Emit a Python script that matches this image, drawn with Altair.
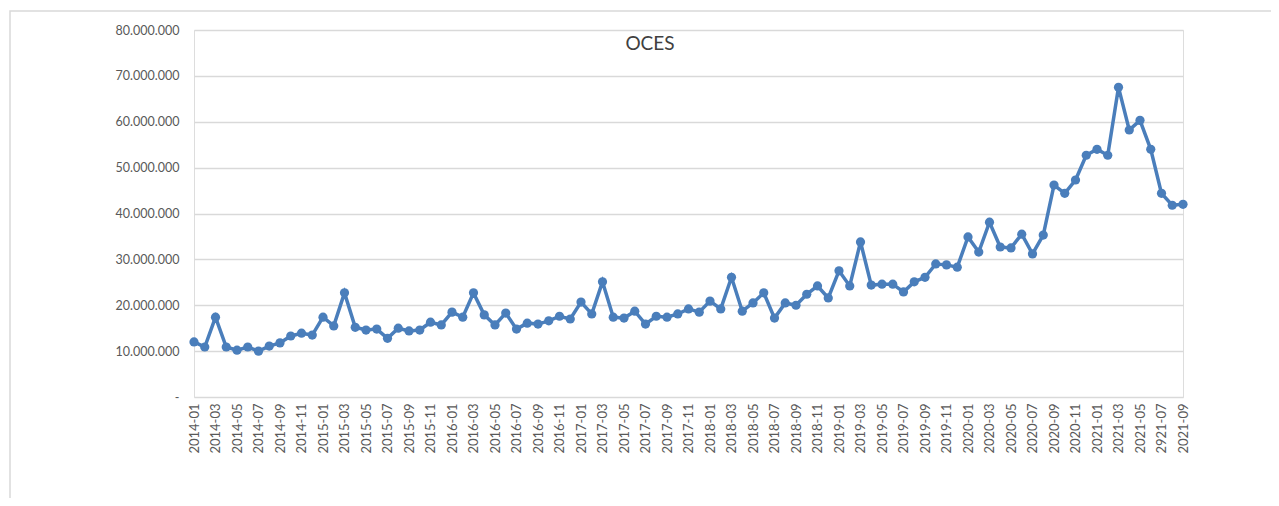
import altair as alt
import pandas as pd

# Category labels as printed on the chart (note the "2921-07" typo in the source)
months = [f"{y}-{m:02d}" for y in range(2014, 2022) for m in range(1, 13)][:93]
months[90] = "2921-07"

values = [
    12.0, 10.9, 17.4, 10.9, 10.2, 10.9, 10.0, 11.1, 11.8, 13.3, 13.9, 13.5,
    17.4, 15.5, 22.7, 15.2, 14.6, 14.8, 12.8, 15.0, 14.4, 14.6, 16.3, 15.7,
    18.5, 17.4, 22.7, 17.9, 15.7, 18.3, 14.8, 16.1, 15.9, 16.6, 17.6, 17.0,
    20.7, 18.1, 25.1, 17.4, 17.2, 18.7, 15.9, 17.6, 17.4, 18.1, 19.2, 18.5,
    20.9, 19.2, 26.1, 18.7, 20.5, 22.7, 17.2, 20.5, 20.0, 22.4, 24.2, 21.6,
    27.5, 24.2, 33.8, 24.4, 24.6, 24.6, 22.9, 25.1, 26.1, 29.0, 28.8, 28.3,
    34.9, 31.6, 38.1, 32.7, 32.5, 35.5, 31.2, 35.3, 46.2, 44.4, 47.3, 52.7,
    54.0, 52.7, 67.5, 58.2, 60.3, 54.0, 44.4, 41.8, 42.0,
]
values = [v * 1_000_000 for v in values]

y_ticks = [0, 10_000_000, 20_000_000, 30_000_000, 40_000_000,
           50_000_000, 60_000_000, 70_000_000, 80_000_000]
title_text = "OCES"

df = pd.DataFrame({"month": months, "value": values})

FONT = "Lato"
BLUE = "#4a7ebb"
GRID = "#d9d9d9"
LABEL = "#595959"

x_enc = alt.X(
    "month:O",
    sort=months,
    scale=alt.Scale(type="point", padding=0),
    axis=alt.Axis(
        values=months[::2],
        labelAngle=-90,
        labelFont=FONT,
        labelFontSize=13,
        labelColor=LABEL,
        labelPadding=6,
        ticks=False,
        domain=False,
        grid=False,
        title=None,
    ),
)
y_enc = alt.Y(
    "value:Q",
    scale=alt.Scale(domain=[0, 80_000_000], nice=False, zero=True),
    axis=alt.Axis(
        values=y_ticks,
        labelExpr="datum.value == 0 ? '-' : replace(format(datum.value, ',.0f'), /,/g, '.')",
        labelFont=FONT,
        labelFontSize=12.5,
        labelColor=LABEL,
        labelPadding=15,
        ticks=False,
        domain=False,
        grid=True,
        gridColor=GRID,
        gridWidth=1.5,
        title=None,
    ),
)

line = alt.Chart(df).mark_line(
    color=BLUE, strokeWidth=3.5,
    point=alt.OverlayMarkDef(color=BLUE, size=85, filled=True, opacity=1),
).encode(x=x_enc, y=y_enc)

border = alt.Chart(pd.DataFrame({"a": [0]})).mark_rect(
    fill=None, stroke=GRID, strokeWidth=1.5
).encode(
    x=alt.value(-184), x2=alt.value(1100),
    y=alt.value(-19), y2=alt.value(500),
)

title = alt.Chart(pd.DataFrame({"t": [title_text]})).mark_text(
    font=FONT, fontSize=19, color="#404040", align="center", baseline="middle"
).encode(
    text="t:N", x=alt.value(456), y=alt.value(14),
)

chart = alt.layer(border, line, title).properties(
    width=989,
    height=367,
    autosize=alt.AutoSizeParams(type="none"),
    padding={"left": 186, "top": 22, "right": 88, "bottom": 101},
).configure_view(stroke=None).configure(background="white")

chart.save("out.html", embed_options={"renderer": "svg", "actions": False})
